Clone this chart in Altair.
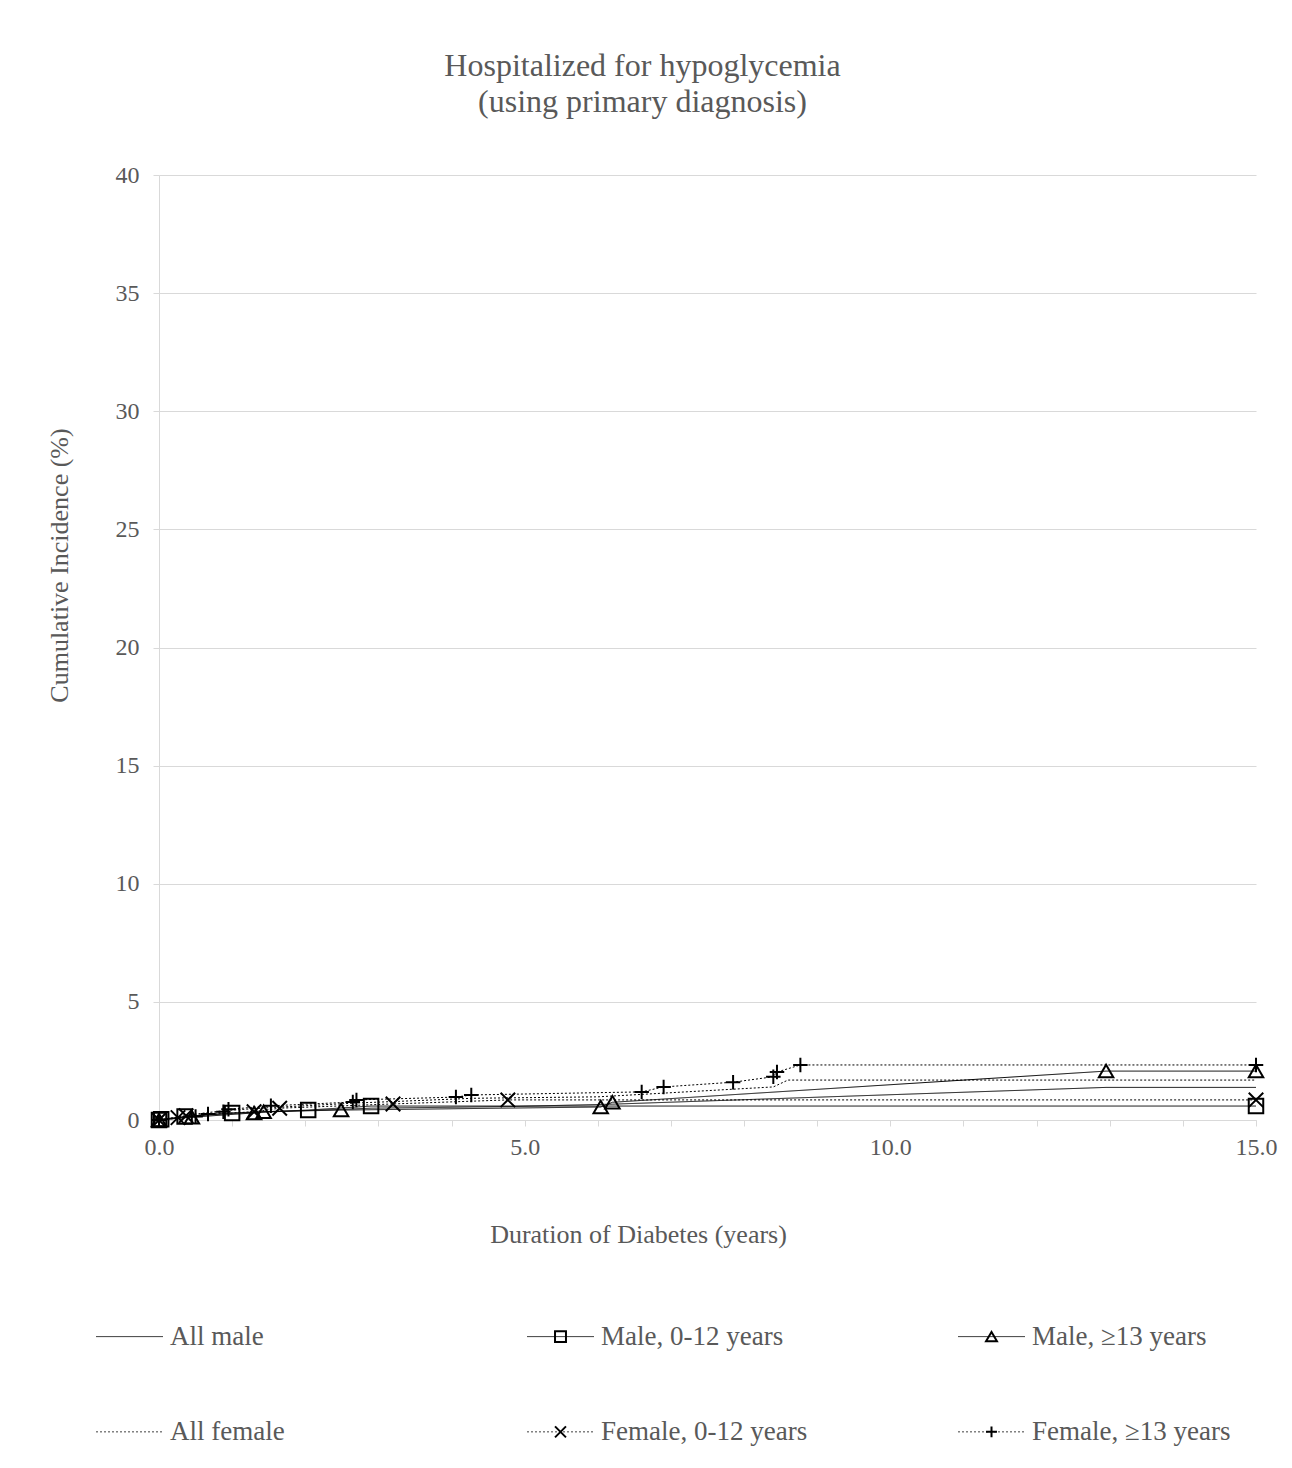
import altair as alt
import pandas as pd

FONT = "Liberation Serif"
TXT = "#595959"
GRID = "#d9d9d9"

SERIES = ["All male", "Male, 0-12 years", "Male, \u226513 years",
          "All female", "Female, 0-12 years", "Female, \u226513 years"]
MARKED = ["Male, 0-12 years", "Male, \u226513 years",
          "Female, 0-12 years", "Female, \u226513 years"]

# Duration (years) and cumulative incidence (%)
all_male_t = [0.0, 0.3, 0.5, 1.0, 1.4, 2.0, 2.5, 2.9, 4.8, 6.2, 12.95, 15.0]
all_male_v = [0.0, 0.1, 0.18, 0.28, 0.33, 0.4, 0.45, 0.5, 0.57, 0.67, 1.38, 1.38]

male012_t = [0.0, 0.03, 0.35, 1.0, 2.04, 2.9, 15.0]
male012_v = [0.0, 0.03, 0.15, 0.3, 0.42, 0.59, 0.59]

male13_t = [0.0, 0.45, 1.3, 1.43, 2.49, 6.04, 6.2, 12.95, 15.0]
male13_v = [0.0, 0.12, 0.3, 0.35, 0.42, 0.55, 0.75, 2.07, 2.07]

all_female_t = [0.0, 0.3, 0.5, 0.9, 1.5, 2.7, 3.2, 4.3, 6.0, 8.4, 8.6, 15.0]
all_female_v = [0.0, 0.15, 0.25, 0.4, 0.52, 0.72, 0.78, 0.92, 0.98, 1.4, 1.69, 1.69]

female012_t = [0.0, 0.26, 0.37, 1.3, 1.65, 3.2, 4.77, 15.0]
female012_v = [0.0, 0.1, 0.18, 0.35, 0.5, 0.68, 0.85, 0.85]

female13_t = [0.0, 0.5, 0.67, 0.88, 0.95, 1.53, 2.65, 2.7, 4.06, 4.27, 6.6, 6.9,
              7.85, 8.4, 8.45, 8.77, 15.0]
female13_v = [0.0, 0.15, 0.25, 0.35, 0.45, 0.6, 0.76, 0.85, 0.97, 1.06, 1.19, 1.4,
              1.6, 1.83, 2.03, 2.33, 2.33]

X_TICKS = [i * 0.5 for i in range(31)]
Y_TICKS = [0, 5, 10, 15, 20, 25, 30, 35, 40]

series_data = [
    (SERIES[0], all_male_t, all_male_v),
    (SERIES[1], male012_t, male012_v),
    (SERIES[2], male13_t, male13_v),
    (SERIES[3], all_female_t, all_female_v),
    (SERIES[4], female012_t, female012_v),
    (SERIES[5], female13_t, female13_v),
]

rows = []
for name, ts, vs in series_data:
    for k, (t, v) in enumerate(zip(ts, vs)):
        rows.append({"series": name, "t": t, "v": v, "order": k})
df = pd.DataFrame(rows)
df_pts = df[df["series"].isin(MARKED)]

DASHES = [[1, 0], [1, 0], [1, 0], [2, 2], [2, 2], [2, 2]]
SHAPES = ["square", "triangle-up", "M-1,-1L1,1M-1,1L1,-1", "M-1,0H1M0,-1V1"]

dash_enc = alt.StrokeDash("series:N", scale=alt.Scale(domain=SERIES, range=DASHES), legend=None)
shape_enc = alt.Shape("series:N", scale=alt.Scale(domain=MARKED, range=SHAPES), legend=None)

PLOT_W = 1097
PLOT_H = 945

x_enc = alt.X(
    "t:Q",
    scale=alt.Scale(domain=[0, 15], nice=False, zero=False),
    axis=alt.Axis(
        values=X_TICKS,
        labelExpr="datum.value % 2.5 === 0 ? format(datum.value, '.1f') : ''",
        grid=False, domainColor=GRID, tickColor=GRID, tickSize=6,
        labelFontSize=24, labelColor=TXT, labelPadding=9, labelFont=FONT,
        labelOverlap=False, labelFlush=False,
        title="Duration of Diabetes (years)", titleFontSize=26, titleColor=TXT,
        titleFontWeight="normal", titlePadding=62, titleFont=FONT,
        titleX=479, titleAlign="center",
    ),
)
y_enc = alt.Y(
    "v:Q",
    scale=alt.Scale(domain=[0, 40], nice=False),
    axis=alt.Axis(
        values=Y_TICKS, grid=True, gridColor=GRID, domainColor=GRID, tickColor=GRID,
        tickSize=6, labelFontSize=24, labelColor=TXT, labelPadding=14, labelFont=FONT,
        title="Cumulative Incidence (%)", titleFontSize=26, titleColor=TXT,
        titleFontWeight="normal", titlePadding=43, titleFont=FONT,
        titleY=390, titleAlign="center",
    ),
)

lines = alt.Chart(df).mark_line(color="black", strokeWidth=1).encode(
    x=x_enc, y=y_enc, strokeDash=dash_enc, detail="series:N", order="order:Q"
)
pts = alt.Chart(df_pts).mark_point(
    filled=False, color="black", strokeWidth=2, size=210, opacity=1
).encode(x="t:Q", y="v:Q", shape=shape_enc)

main = alt.layer(lines, pts).properties(width=PLOT_W, height=PLOT_H)

# custom legend laid out in 3 columns x 2 rows, positions relative to the plot's left edge
COL_W = 431
PAD = -63
LINE_LEN = 67
GAP = 7
leg = pd.DataFrame({"series": SERIES})
leg["col"] = [i % 3 for i in range(len(SERIES))]
leg["row"] = [i // 3 for i in range(len(SERIES))]
leg["x0"] = leg["col"] * COL_W + PAD
leg["x1"] = leg["x0"] + LINE_LEN
leg["xm"] = (leg["x0"] + leg["x1"]) / 2
leg["xt"] = leg["x1"] + GAP
leg_pts = leg[leg["series"].isin(MARKED)]

lx = alt.Scale(domain=[0, PLOT_W], nice=False, zero=False)
ly = alt.Scale(domain=[-0.5, 1.18], nice=False, zero=False, reverse=True)

leg_lines = alt.Chart(leg).mark_rule(color="#404040", strokeWidth=1).encode(
    x=alt.X("x0:Q", scale=lx, axis=None),
    x2="x1:Q",
    y=alt.Y("row:Q", scale=ly, axis=None),
    strokeDash=dash_enc,
)
leg_marks = alt.Chart(leg_pts).mark_point(
    filled=False, color="black", strokeWidth=2, size=120, opacity=1
).encode(
    x=alt.X("xm:Q", scale=lx, axis=None),
    y=alt.Y("row:Q", scale=ly, axis=None),
    shape=shape_enc,
)
leg_text = alt.Chart(leg).mark_text(
    align="left", baseline="middle", font=FONT, fontSize=27, color=TXT
).encode(
    x=alt.X("xt:Q", scale=lx, axis=None),
    y=alt.Y("row:Q", scale=ly, axis=None),
    text="series:N",
)
legend = alt.layer(leg_lines, leg_marks, leg_text).properties(width=PLOT_W, height=160)

chart = alt.vconcat(main, legend, spacing=40).properties(
    title=alt.TitleParams(
        text=["Hospitalized for hypoglycemia", "(using primary diagnosis)"],
        font=FONT, fontSize=32, fontWeight="normal", color=TXT,
        anchor="middle", offset=44, lineHeight=36, dx=-19,
    ),
    padding={"left": 37, "top": 41, "right": 5, "bottom": 0},
).configure(font=FONT).configure_view(stroke="transparent")

chart.save("out.html", embed_options={"renderer": "svg", "actions": False})
